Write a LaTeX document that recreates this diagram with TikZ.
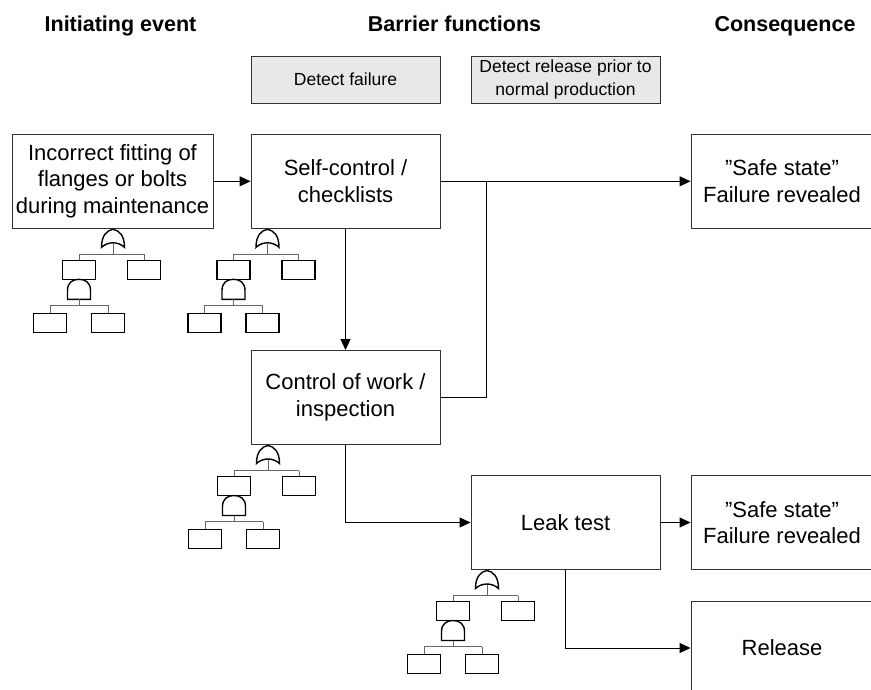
\documentclass[tikz,border=0pt]{standalone}
\usepackage{fontspec}
\setmainfont{Liberation Sans}
\usetikzlibrary{arrows.meta}
\begin{document}
\begin{tikzpicture}[x=1pt, y=-1pt,
  header/.style={font=\fontsize{21.5}{26}\selectfont\bfseries, anchor=base, inner sep=0pt},
  box/.style={draw=black!80, line width=0.9pt, minimum height=94pt, inner sep=0pt,
    align=center, text=black, font=\fontsize{22}{26.5}\selectfont},
  barrier/.style={draw=black!80, fill=black!9, line width=0.9pt, minimum width=189pt,
    minimum height=47pt, inner sep=0pt, align=center, font=\fontsize{17.5}{23}\selectfont},
  link/.style={line width=1pt, black},
  arr/.style={link, -{Triangle[length=11pt,width=10pt]}},
  ftpart/.style={draw=black, line width=1.4pt},
  ftline/.style={draw=black!60, line width=0.8pt},
  ftree/.pic={
    % OR gate with its inputs
    \path[ftpart] (-11.5,19) .. controls (-11.5,7) and (-6,2) .. (0,1)
      .. controls (6,2) and (11.5,7) .. (11.5,19)
      .. controls (5,13) and (-5,13) .. cycle;
    \path[ftline] (0,15) -- (0,26) (-34,26) -- (31,26)
      (-34,26) -- (-34,32) (31,26) -- (31,32);
    \path[ftpart] (-50.5,32) rectangle (-17.5,51);
    \path[ftpart] (14.5,32) rectangle (47.5,51);
    % AND gate under the left event
    \path[ftpart] (-45.5,71) -- (-45.5,62) .. controls (-45.5,54) and (-40,51) .. (-34,51)
      .. controls (-28,51) and (-22.5,54) .. (-22.5,62) -- (-22.5,71) -- cycle;
    \path[ftline] (-34,71) -- (-34,77) (-63,77) -- (-5,77)
      (-63,77) -- (-63,85) (-5,77) -- (-5,85);
    \path[ftpart] (-79.5,85) rectangle (-46.5,104);
    \path[ftpart] (-21.5,85) rectangle (11.5,104);
  }
]
\useasboundingbox (0,0) rectangle (871,690);
\clip (0,0) rectangle (871,690);

% column headings
\node[header] (hInit) at (120.5,31.7) {Initiating event};
\node[header] (hBar) at (454.5,31.7) {Barrier functions};
\node[header] (hCons) at (785,31.7) {Consequence};

% barrier function labels
\node[barrier] (bf1) at (345.5,79.5) {Detect failure};
\node[barrier] (bf2) at (565.5,79.5) {Detect release prior to\\normal production};

% event boxes
\node[box, minimum width=201pt] (init) at (112.5,181.3) {Incorrect fitting of\\flanges or bolts\\during maintenance};
\node[box, minimum width=189pt] (self) at (345.5,181.3) {Self-control /\\checklists};
\node[box, minimum width=189pt] (ctrl) at (345.5,397.5) {Control of work /\\inspection};
\node[box, minimum width=189pt] (leak) at (565.5,522.5) {Leak test};
\node[box, minimum width=182pt] (safe1) at (782,181.3) {"Safe state"\\Failure revealed};
\node[box, minimum width=182pt] (safe2) at (782,522.5) {"Safe state"\\Failure revealed};
\node[box, minimum width=182pt] (rel) at (782,648) {Release};

\coordinate (merge) at (486.7,181.3);

% connectors
\draw[arr] (init.east) -- (self.west);
\draw[arr] (self.east) -- (safe1.west);
\draw[link] (ctrl.east) -| (merge);
\draw[arr] (self.south) -- (ctrl.north);
\draw[arr] (ctrl.south) |- (leak.west);
\draw[arr] (leak.east) -- (safe2.west);
\draw[arr] (leak.south) |- (rel.west);

% fault trees below the events
\pic at (113,228.3) {ftree};
\pic at (267.5,228.3) {ftree};
\pic at (268,444.5) {ftree};
\pic at (487,569.5) {ftree};
\end{tikzpicture}
\end{document}
